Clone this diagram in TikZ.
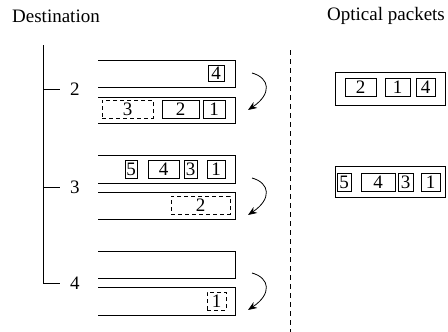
\documentclass[tikz,border=0pt]{standalone}
\usepackage{fontspec}
\setmainfont{Liberation Serif}
\usetikzlibrary{arrows.meta}
\begin{document}
\begin{tikzpicture}[x=1pt,y=-1pt,
  every node/.style={font=\fontsize{19}{22}\selectfont},
  ln/.style={line width=0.8pt},
  pk/.style={draw,line width=0.8pt,inner sep=0pt,minimum height=18pt},
  dpk/.style={pk,dash pattern=on 4pt off 3pt},
  chan/.style={line width=0.8pt},
  arr/.style={line width=0.8pt,-{Stealth[length=9pt,width=7pt]}},
  lbl/.style={inner sep=0pt}]
\useasboundingbox (0,0) rectangle (448,332);

% titles
\node[lbl,anchor=west] (dest) at (12,16) {Destination};
\node[lbl,anchor=west] (opt) at (327,16) {Optical packets};

% tree
\coordinate (vtop) at (43,45);
\coordinate (v2) at (43,89);
\coordinate (v3) at (43,187);
\coordinate (v4) at (43,283);
\node[lbl] (d2) at (75,89) {2};
\node[lbl] (d3) at (75,187) {3};
\node[lbl] (d4) at (75,283) {4};
\draw[ln] (vtop) -- (v4) -- ++(17,0);
\draw[ln] (v2) -- ++(17,0);
\draw[ln] (v3) -- ++(17,0);

% channels
\foreach \t/\b in {60/87,97/123,155/183,192/219,251/278,287/315}{
  \draw[chan] (98,\t) -- (235,\t) -- (235,\b) -- (98,\b);
}

% row 2 packets
\node[pk,minimum width=16pt,minimum height=16pt] (r2a4) at (216,73) {4};
\node[dpk,minimum width=51pt] (r2b3) at (127.5,109) {3};
\node[pk,minimum width=37pt] (r2b2) at (180.5,109) {2};
\node[pk,minimum width=22pt] (r2b1) at (214,109) {1};

% row 3 packets
\node[pk,minimum width=12pt] (r3a5) at (131,169) {5};
\node[pk,minimum width=31pt] (r3a4) at (163.5,169) {4};
\node[pk,minimum width=13pt] (r3a3) at (190.5,169) {3};
\node[pk,minimum width=18pt] (r3a1) at (216,169) {1};
\node[dpk,minimum width=59pt] (r3b2) at (200.5,205) {2};

% row 4 packets
\node[dpk,minimum width=19pt] (r4b1) at (216.5,301) {1};

% curved arrows
\foreach \n/\s in {2/73,3/178,4/273}{
  \coordinate (as\n) at (252,\s);
  \coordinate (ae\n) at (248,\s+37);
  \draw[arr] (as\n) .. controls (270,\s+5) and (272,\s+21) .. (ae\n);
}

% dashed separator
\coordinate (sepT) at (290,50);
\coordinate (sepB) at (290,332);
\draw[ln,dash pattern=on 5pt off 4pt] (sepT) -- (sepB);

% optical packets
\node[draw,line width=0.8pt,inner sep=0pt,minimum width=110pt,minimum height=33pt] (o1) at (390,88.5) {};
\node[pk,minimum width=31pt] (o1a) at (360.5,87) {2};
\node[pk,minimum width=25pt] (o1b) at (397.5,87) {1};
\node[pk,minimum width=19pt] (o1c) at (425.5,87) {4};

\node[draw,line width=0.8pt,inner sep=0pt,minimum width=110pt,minimum height=31pt] (o2) at (390,181.5) {};
\node[pk,minimum width=14pt] (o2a) at (344,182) {5};
\node[pk,minimum width=34pt] (o2b) at (378,182) {4};
\node[pk,minimum width=15pt] (o2c) at (405.5,182) {3};
\node[pk,minimum width=19pt] (o2d) at (430.5,182) {1};
\end{tikzpicture}
\end{document}
